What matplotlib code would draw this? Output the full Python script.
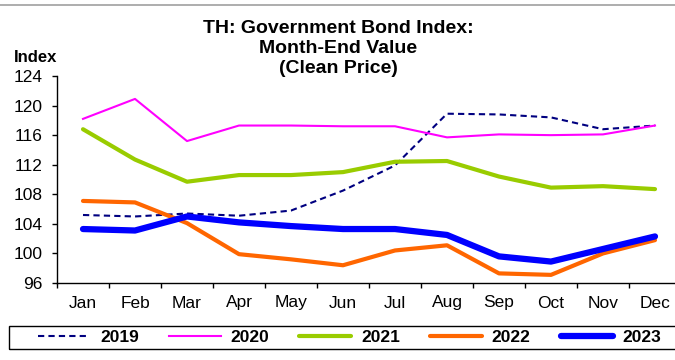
import matplotlib
matplotlib.use('Agg')
import matplotlib.pyplot as plt
from matplotlib.lines import Line2D
from matplotlib.patches import Rectangle
import numpy as np

plt.rcParams['font.family'] = ['Liberation Sans', 'DejaVu Sans']

# Month-end clean price index values
months = ['Jan', 'Feb', 'Mar', 'Apr', 'May', 'Jun',
          'Jul', 'Aug', 'Sep', 'Oct', 'Nov', 'Dec']
y2019 = [105.2, 105.0, 105.4, 105.1, 105.8, 108.5, 111.9, 118.9, 118.8, 118.4, 116.8, 117.3]
y2020 = [118.2, 120.9, 115.2, 117.3, 117.3, 117.2, 117.2, 115.7, 116.1, 116.0, 116.1, 117.3]
y2021 = [116.8, 112.7, 109.7, 110.6, 110.6, 111.0, 112.4, 112.5, 110.4, 108.9, 109.1, 108.7]
y2022 = [107.1, 106.9, 104.1, 99.9, 99.2, 98.4, 100.4, 101.1, 97.3, 97.1, 100.0, 101.8]
y2023 = [103.3, 103.1, 105.0, 104.2, 103.7, 103.3, 103.3, 102.5, 99.6, 98.9, 100.6, 102.3]
yticks = [96, 100, 104, 108, 112, 116, 120, 124]

fig = plt.figure(figsize=(6.75, 3.6), dpi=100)
ax = fig.add_axes([57 / 675, 77 / 360, 624 / 675, 207 / 360])

x = np.arange(len(months))
ax.plot(x, y2019, color='#000080', lw=1.5, ls=(0, (3, 2)), label='2019')
ax.plot(x, y2020, color='#FF00FF', lw=1.5, label='2020')
ax.plot(x, y2021, color='#99CC00', lw=3, solid_capstyle='round', label='2021')
ax.plot(x, y2022, color='#FF6600', lw=3, solid_capstyle='round', label='2022')
ax.plot(x, y2023, color='#0000FF', lw=4.5, solid_capstyle='round', label='2023')

ax.set_xlim(-0.5, len(months) - 0.5)
ax.set_ylim(96, 124)
ax.set_yticks(yticks)
ax.set_xticks(x)
ax.set_xticklabels(months)
ax.set_xticks(np.arange(-0.5, len(months), 1), minor=True)
ax.tick_params(axis='x', which='major', length=0, pad=9, labelsize=12.5)
ax.tick_params(axis='x', which='minor', length=3.6, direction='out', width=1)
ax.tick_params(axis='y', length=3.6, direction='out', width=1, pad=6.5, labelsize=12.5)
for s in ['top', 'right']:
    ax.spines[s].set_visible(False)
for s in ['left', 'bottom']:
    ax.spines[s].set_linewidth(1)

fig.text(338.5 / 675, 1 - 48.5 / 360, 'TH: Government Bond Index:\nMonth-End Value\n(Clean Price)',
         ha='center', va='center', fontsize=14, fontweight='bold', linespacing=1.2)
fig.text(14 / 675, 1 - 57 / 360, 'Index', ha='left', va='center',
         fontsize=12, fontweight='bold')

# thin gray frame line at top
fig.add_artist(Line2D([0, 1], [1 - 5 / 360, 1 - 5 / 360], color='#A0A0A0', lw=1.2,
                      transform=fig.transFigure))

# legend box runs past the right edge of the picture
fig.add_artist(Rectangle((9 / 675, 11 / 360), 700 / 675, 23 / 360, fill=False,
                         edgecolor='black', lw=1, transform=fig.transFigure))
leg = fig.legend(loc='center left', bbox_to_anchor=(38 / 675, 1 - 337.5 / 360),
                 ncol=5, frameon=False, borderpad=0, borderaxespad=0,
                 handlelength=3.0, handletextpad=0.57, columnspacing=1.72,
                 prop={'weight': 'bold', 'size': 12.5})

fig.savefig('out.png', dpi=100, facecolor='white')
